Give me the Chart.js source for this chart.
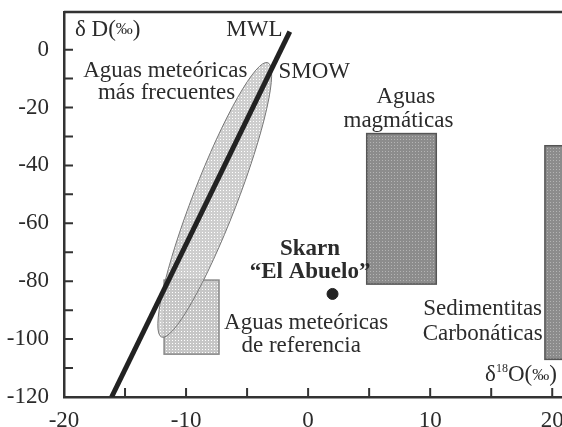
<!DOCTYPE html>
<html>
<head>
<meta charset="utf-8">
<script src="https://cdn.jsdelivr.net/npm/chart.js@4.4.0/dist/chart.umd.min.js"></script>
<style>
html, body { margin: 0; padding: 0; background: #fff; overflow: hidden; }
#wrap { width: 562px; height: 427px; position: relative; }
</style>
</head>
<body>
<div id="wrap"><canvas id="grafik"></canvas></div>
<script>
// MWL line, two ends (d18O, dD)
const mwlO18 = [-16.1, -1.5];
const mwlD = [-120, 6.2];

// Skarn "El Abuelo"
const skarnO18 = [2.0];
const skarnD = [-84.4];

// boxes: aguas meteoricas de referencia, aguas magmaticas, sedimentitas carbonaticas
const boxO18Min = [-11.8, 4.8, 19.4];
const boxO18Max = [-7.3, 10.5, 25];
const boxDMin = [-105.2, -81, -107];
const boxDMax = [-79.6, -29, -33.2];

// ellipse of most frequent meteoric waters, ends of the long axis
const ellipseO18 = [-3.3, -12.0];
const ellipseD = [-4.5, -99.3];

// ticks
const xTicks = [-20, -15, -10, -5, 0, 5, 10, 15, 20];
const xLabels = [-20, -10, 0, 10, 20];
const yTicks = [-120, -110, -100, -90, -80, -70, -60, -50, -40, -30, -20, -10, 0];
const yLabels = [-120, -100, -80, -60, -40, -20, 0];

// text on the plot
const notes = [
    { text: 'MWL', x: -4.4, y: 6.9 },
    { text: 'SMOW', x: 0.5, y: -7.6 },
    { text: 'Aguas meteóricas', x: -11.7, y: -7.3 },
    { text: 'más frecuentes', x: -11.6, y: -14.9 },
    { text: 'Aguas', x: 8.0, y: -16.3 },
    { text: 'magmáticas', x: 7.4, y: -24.5 },
    { text: 'Skarn', x: 0.16, y: -68.8, bold: true },
    { text: '“El Abuelo”', x: 0.16, y: -77, bold: true },
    { text: 'Aguas meteóricas', x: -0.16, y: -94.5 },
    { text: 'de referencia', x: -0.57, y: -102.4 },
    { text: 'Sedimentitas', x: 14.3, y: -89.6 },
    { text: 'Carbonáticas', x: 14.3, y: -98.3 }
];

const FONT = '"Liberation Serif", "Times New Roman", serif';
const INK = '#2b2b2b';

const makePattern = (ctx, base, dot) => {
    const c = document.createElement('canvas');
    c.width = 3; c.height = 3;
    const g = c.getContext('2d');
    g.fillStyle = base;
    g.fillRect(0, 0, 3, 3);
    g.fillStyle = dot;
    g.fillRect(1, 1, 1, 1);
    return ctx.createPattern(c, 'repeat');
};

// writes pieces of text one after another (for the axis titles)
const drawRuns = (ctx, runs, x, y) => {
    ctx.textAlign = 'left';
    ctx.textBaseline = 'middle';
    runs.forEach(r => {
        ctx.font = (r.size || 23) + 'px ' + FONT;
        ctx.fillText(r.t, x, y - (r.raise || 0));
        x += ctx.measureText(r.t).width;
    });
};

const shapesPlugin = {
    id: 'shapes',
    beforeDatasetsDraw(chart) {
        const { ctx, scales: { x, y } } = chart;
        const light = makePattern(ctx, '#c6c6c6', '#ffffff');
        const dark = makePattern(ctx, '#8c8c8c', '#b4b4b4');
        ctx.save();
        ctx.beginPath();
        ctx.rect(chart.chartArea.left, chart.chartArea.top, chart.chartArea.width, chart.chartArea.height);
        ctx.clip();

        // boxes
        boxO18Min.forEach((v, i) => {
            const x1 = x.getPixelForValue(v), x2 = x.getPixelForValue(boxO18Max[i]);
            const y1 = y.getPixelForValue(boxDMax[i]), y2 = y.getPixelForValue(boxDMin[i]);
            ctx.fillStyle = i === 0 ? light : dark;
            ctx.fillRect(x1, y1, x2 - x1, y2 - y1);
            ctx.strokeStyle = i === 0 ? '#8a8a8a' : '#555';
            ctx.lineWidth = 1.5;
            ctx.strokeRect(x1, y1, x2 - x1, y2 - y1);
        });

        // ellipse
        const ax = x.getPixelForValue(ellipseO18[0]), ay = y.getPixelForValue(ellipseD[0]);
        const bx = x.getPixelForValue(ellipseO18[1]), by = y.getPixelForValue(ellipseD[1]);
        const len = Math.hypot(bx - ax, by - ay) / 2;
        ctx.beginPath();
        ctx.ellipse((ax + bx) / 2, (ay + by) / 2, len, 22, Math.atan2(by - ay, bx - ax), 0, Math.PI * 2);
        ctx.globalAlpha = 0.85;
        ctx.fillStyle = light;
        ctx.fill();
        ctx.globalAlpha = 1;
        ctx.strokeStyle = '#777';
        ctx.lineWidth = 1;
        ctx.stroke();
        ctx.restore();
    },
    afterDatasetsDraw(chart) {
        const { ctx, chartArea, scales: { x, y } } = chart;
        ctx.save();
        ctx.fillStyle = INK;

        notes.forEach(n => {
            ctx.font = (n.bold ? 'bold ' : '') + '23px ' + FONT;
            ctx.textAlign = 'center';
            ctx.textBaseline = 'middle';
            ctx.fillText(n.text, x.getPixelForValue(n.x), y.getPixelForValue(n.y));
        });

        drawRuns(ctx, [{ t: 'δ D(' }, { t: '‰', size: 17 }, { t: ')' }],
            x.getPixelForValue(-19.1), y.getPixelForValue(6.9));
        drawRuns(ctx, [{ t: 'δ' }, { t: '18', size: 12, raise: 6 }, { t: 'O(' }, { t: '‰', size: 17 }, { t: ')' }],
            x.getPixelForValue(14.5), y.getPixelForValue(-112.5));

        // frame on top and inward ticks
        ctx.strokeStyle = '#333';
        ctx.lineWidth = 2.5;
        ctx.beginPath();
        ctx.moveTo(chartArea.left, chartArea.top);
        ctx.lineTo(chartArea.right, chartArea.top);
        ctx.stroke();

        ctx.lineWidth = 2;
        ctx.beginPath();
        xTicks.forEach(v => {
            if (v === x.min) return;
            const p = x.getPixelForValue(v);
            ctx.moveTo(p, chartArea.bottom);
            ctx.lineTo(p, chartArea.bottom - 9);
        });
        yTicks.forEach(v => {
            if (v === y.min) return;
            const p = y.getPixelForValue(v);
            ctx.moveTo(chartArea.left, p);
            ctx.lineTo(chartArea.left + 9, p);
        });
        ctx.stroke();
        ctx.restore();
    }
};

const ctxGrafik = document.getElementById('grafik');
new Chart(ctxGrafik, {
    type: 'scatter',
    data: {
        datasets: [{
            label: 'MWL',
            data: mwlO18.map((v, i) => ({ x: v, y: mwlD[i] })),
            showLine: true,
            borderColor: '#222',
            borderWidth: 5,
            pointRadius: 0
        }, {
            label: 'Skarn El Abuelo',
            data: skarnO18.map((v, i) => ({ x: v, y: skarnD[i] })),
            pointRadius: 5.5,
            backgroundColor: '#222',
            borderColor: '#222'
        }]
    },
    options: {
        responsive: true,
        maintainAspectRatio: false,
        animation: false,
        layout: { autoPadding: false, padding: { top: 12, left: 0, right: 0, bottom: 0 } },
        plugins: {
            legend: { display: false },
            tooltip: { enabled: false }
        },
        scales: {
            x: {
                type: 'linear',
                min: -20,
                max: 20.8,
                afterBuildTicks: s => { s.ticks = xTicks.map(v => ({ value: v })); },
                afterFit: s => { s.height = 30; s.paddingLeft = 0; s.paddingRight = 0; },
                grid: { display: false, drawTicks: false },
                border: { display: true, color: '#333', width: 2.5 },
                ticks: {
                    padding: 10,
                    color: INK,
                    font: { family: FONT, size: 23 },
                    maxRotation: 0,
                    autoSkip: false,
                    callback: v => xLabels.includes(v) ? String(v) : ''
                }
            },
            y: {
                type: 'linear',
                min: -120,
                max: 13,
                afterBuildTicks: s => { s.ticks = yTicks.map(v => ({ value: v })); },
                afterFit: s => { s.width = 64; s.paddingTop = 0; s.paddingBottom = 0; },
                grid: { display: false, drawTicks: false },
                border: { display: true, color: '#333', width: 2.5 },
                ticks: {
                    padding: 15,
                    color: INK,
                    font: { family: FONT, size: 23 },
                    autoSkip: false,
                    callback: v => yLabels.includes(v) ? String(v) : ''
                }
            }
        }
    },
    plugins: [shapesPlugin]
});
</script>
</body>
</html>
